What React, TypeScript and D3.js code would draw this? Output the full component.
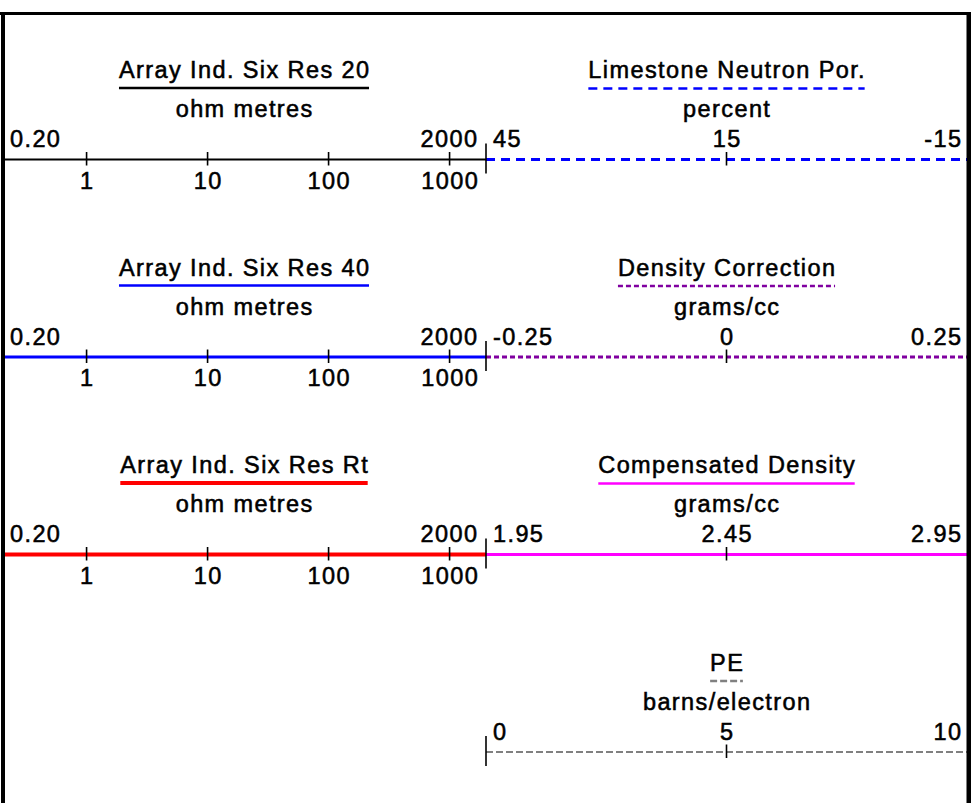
import React, { useEffect, useRef } from "react";
import * as d3 from "d3";

// ---- data ----
const leftCurveNames = ["Array Ind. Six Res 20", "Array Ind. Six Res 40", "Array Ind. Six Res Rt"];
const leftUnits = ["ohm metres", "ohm metres", "ohm metres"];
const leftDomain = [0.2, 2000];
const leftEndLabels = ["0.20", "2000"];
const leftTicks = [1, 10, 100, 1000];
const leftTickLabels = ["1", "10", "100", "1000"];

const rightCurveNames = ["Limestone Neutron Por.", "Density Correction", "Compensated Density", "PE"];
const rightUnits = ["percent", "grams/cc", "grams/cc", "barns/electron"];
const rightDomains = [[45, -15], [-0.25, 0.25], [1.95, 2.95], [0, 10]];
const rightLabels = [["45", "15", "-15"], ["-0.25", "0", "0.25"], ["1.95", "2.45", "2.95"], ["0", "5", "10"]];
const rightMidTicks = [15, 0, 2.45, 5];

// ---- styles ----
const leftStyles = [
  { color: "#000000", width: 2, dash: null },
  { color: "#0000ff", width: 3, dash: null },
  { color: "#ff0000", width: 4, dash: null },
];
const rightStyles = [
  { color: "#0000ff", width: 3, dash: "9,6" },
  { color: "#8000a0", width: 3, dash: "5,3" },
  { color: "#ff00ff", width: 3, dash: null },
  { color: "#808080", width: 2, dash: "7,3" },
];

const W = 971;
const H = 803;
const FONT = "'Liberation Sans', Arial, sans-serif";
const FS = 23.5;
const LS = 1.4;

export default function App() {
  const ref = useRef<SVGSVGElement>(null);

  useEffect(() => {
    const svg = d3.select(ref.current);
    svg.selectAll("*").remove();

    const leftX = d3.scaleLog().domain(leftDomain).range([2, 486]);
    const rowY = (i: number) => 159.5 + i * 197.5;
    const midX = 486;

    const txt = (g: any, x: number, y: number, s: string, anchor: string) =>
      g.append("text")
        .attr("x", anchor === "middle" ? x + LS / 2 : anchor === "end" ? x + LS : x)
        .attr("y", y)
        .attr("text-anchor", anchor)
        .attr("font-family", FONT)
        .attr("font-size", FS)
        .attr("letter-spacing", LS)
        .attr("fill", "#000")
        .attr("stroke", "#000")
        .attr("stroke-width", 0.55)
        .text(s);

    const underline = (g: any, t: any, y: number, st: any) => {
      const bb = t.node().getBBox();
      g.append("line")
        .attr("x1", bb.x).attr("x2", bb.x + bb.width - LS)
        .attr("y1", y).attr("y2", y)
        .attr("stroke", st.color).attr("stroke-width", st.width >= 4 ? 4 : 2.5)
        .attr("stroke-dasharray", st.dash);
    };

    const tick = (g: any, x: number, y: number, up: number, down: number) =>
      g.append("line").attr("x1", x).attr("x2", x).attr("y1", y - up).attr("y2", y + down)
        .attr("stroke", "#000").attr("stroke-width", 1.6);

    // left tracks
    leftCurveNames.forEach((name, i) => {
      const L = rowY(i);
      const g = svg.append("g");
      const st = leftStyles[i];
      const cx = (leftX.range()[0] + leftX.range()[1]) / 2;
      const t = txt(g, cx, L - 81.5, name, "middle");
      underline(g, t, L - 71.5, st);
      txt(g, cx, L - 42.5, leftUnits[i], "middle");
      txt(g, leftX(leftDomain[0]) + 8, L - 12.5, leftEndLabels[0], "start");
      txt(g, leftX(leftDomain[1]) - 9, L - 12.5, leftEndLabels[1], "end");
      g.append("line").attr("x1", leftX.range()[0]).attr("x2", leftX.range()[1])
        .attr("y1", L).attr("y2", L)
        .attr("stroke", st.color).attr("stroke-width", st.width);
      leftTicks.forEach((v, k) => {
        tick(g, leftX(v), L, 7.5, 6);
        txt(g, leftX(v), L + 29, leftTickLabels[k], "middle");
      });
    });

    // right tracks
    rightCurveNames.forEach((name, i) => {
      const L = rowY(i);
      const g = svg.append("g");
      const st = rightStyles[i];
      const x = d3.scaleLinear().domain(rightDomains[i]).range([486, 967]);
      const cx = (x.range()[0] + x.range()[1]) / 2;
      const t = txt(g, cx, L - 81.5, name, "middle");
      underline(g, t, L - 71, st);
      txt(g, cx, L - 42.5, rightUnits[i], "middle");
      g.append("line").attr("x1", x.range()[0]).attr("x2", W)
        .attr("y1", L).attr("y2", L)
        .attr("stroke", st.color).attr("stroke-width", st.width)
        .attr("stroke-dasharray", st.dash);
      txt(g, x(rightDomains[i][0]) + 7, L - 12.5, rightLabels[i][0], "start");
      txt(g, x(rightMidTicks[i]), L - 12.5, rightLabels[i][1], "middle");
      txt(g, x(rightDomains[i][1]) - 6, L - 12.5, rightLabels[i][2], "end");
      tick(g, x(rightMidTicks[i]), L, 7.5, 6);
      tick(g, midX, L, 16, 14);
    });

    // frame
    svg.append("line").attr("x1", 0).attr("x2", W).attr("y1", 13.5).attr("y2", 13.5)
      .attr("stroke", "#000").attr("stroke-width", 3);
    svg.append("line").attr("x1", 3).attr("x2", 3).attr("y1", 12).attr("y2", H)
      .attr("stroke", "#000").attr("stroke-width", 4);
    svg.append("line").attr("x1", 969).attr("x2", 969).attr("y1", 12).attr("y2", H)
      .attr("stroke", "#000").attr("stroke-width", 5);
  }, []);

  return (
    <svg
      ref={ref}
      width={W}
      height={H}
      style={{ position: "absolute", left: 0, top: 0, background: "#fff" }}
    />
  );
}
